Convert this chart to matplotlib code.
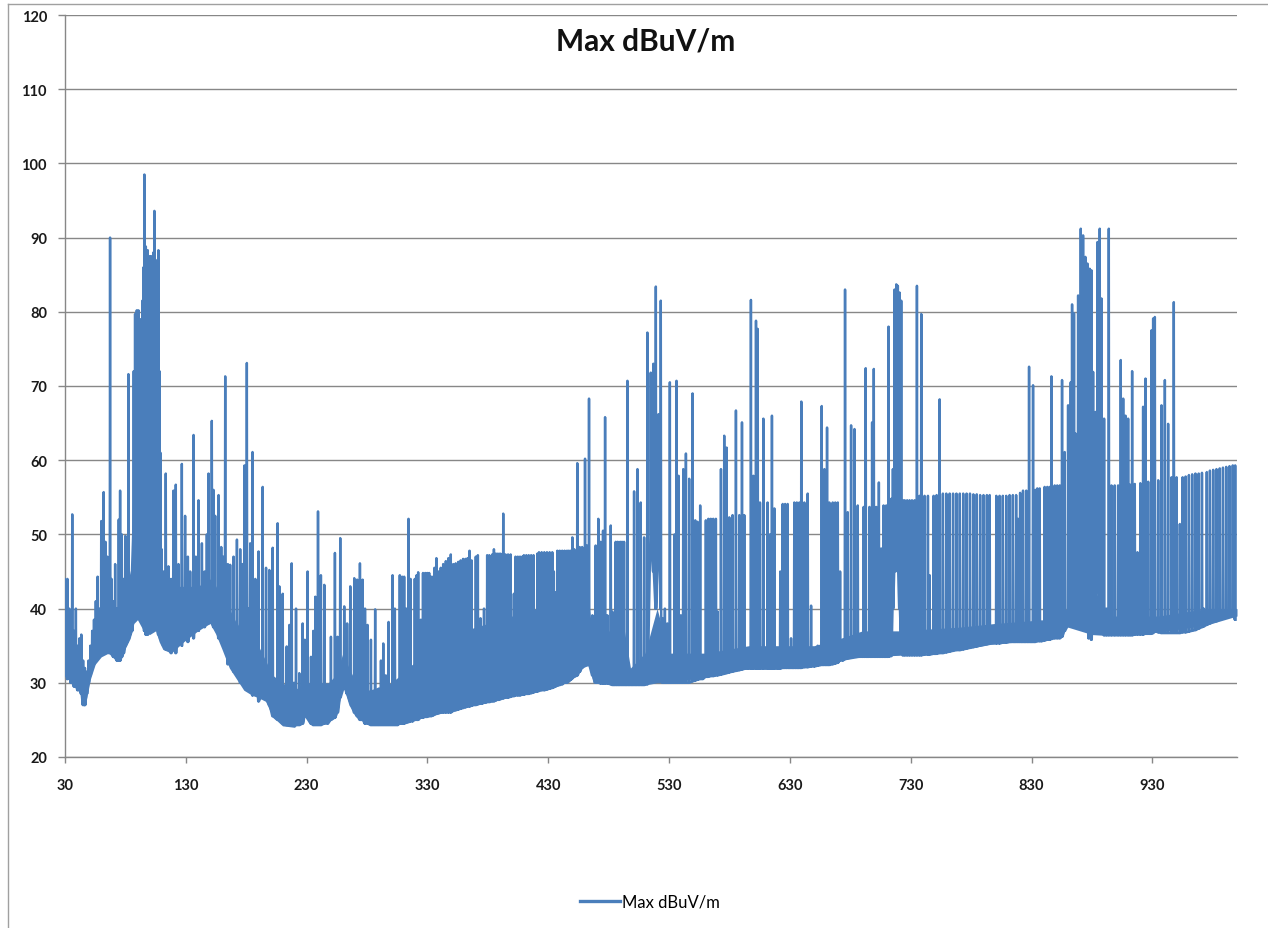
import numpy as np
import matplotlib
matplotlib.use("Agg")
import matplotlib.pyplot as plt
from matplotlib.lines import Line2D

# ---------------- data ----------------
# spikes: frequency (MHz), peak level and the floor level the trace returns to (dBuV/m)
freq_a = [30, 31, 32, 33.5, 35, 36, 37.5, 39, 40.5, 42,
          43.5, 45, 46.5, 48, 49.5, 51, 52.5, 54, 55.5, 57,
          58.5, 60, 61, 62, 63.5, 65, 66.5, 67.3, 68.5, 70,
          71.5, 73, 74.5, 75.6, 77, 78.5, 80, 81.5, 82.5, 84,
          85.5]
peak_a = [44, 38, 44, 40, 36, 52.7, 37, 40, 35, 36,
          36.5, 33, 32, 31.5, 33, 35, 37, 38.5, 41, 44.3,
          40, 51.8, 48, 55.7, 49, 47, 42, 90, 44, 41,
          46, 40, 52, 55.9, 50, 44, 49.8, 42, 71.6, 42.5,
          45]
floor_a = [32, 31, 30.5, 31, 30, 30, 29.5, 29.5, 29, 29,
           28.5, 27, 27, 28.5, 30, 31, 32, 32.5, 33, 33.5,
           33.5, 34, 34, 34, 34.5, 34.5, 34, 34, 34, 33.5,
           33.5, 33, 33, 33, 33.5, 34, 35, 35.5, 36, 36.5,
           37]

freq_b = [86.9, 88, 88.7, 89.4, 90.1, 90.8, 91.6, 92.4, 93.2, 94.1,
          95, 95.7, 96.3, 96.9, 97.7, 98.5, 99.2, 99.9, 100.6, 101.3,
          102, 102.4, 103.2, 104, 104.8, 105.7, 106.5, 107.3, 108.2, 109,
          110]
peak_b = [72, 79.7, 75, 80.2, 78, 80.2, 76, 79, 74, 81.5,
          86, 98.5, 87, 88.8, 86, 88.3, 84, 87.5, 85, 87.5,
          83, 81.5, 88, 93.6, 86, 85, 87, 88.3, 72, 61,
          48]
floor_b = [40, 39.5, 42, 39, 45, 39, 48, 38.5, 50, 38,
           45, 37, 52, 36.5, 55, 36.5, 48, 37, 60, 37,
           50, 37, 55, 37.5, 45, 37.5, 50, 36.5, 40, 36,
           35.5]

freq_c = [111.5, 113.4, 115.6, 117.8, 119.8, 121.7, 123.9, 126.7, 129.4, 131.7,
          133.6, 136.4, 138.3, 140.5, 143.3, 145.5, 147.4, 148.8, 151.5, 152.9,
          154.3, 157.1, 159.3, 161.2, 162.6, 164.8, 166.7, 169.5, 172.3, 175,
          177, 178.6, 180.5, 181.9, 183.3, 185.2, 187.5, 190.2]
peak_c = [45, 58.2, 45.7, 44, 55.9, 56.7, 46, 59.5, 52.5, 47,
          45, 63.4, 47, 54.6, 48.8, 45, 50, 58.2, 65.3, 56,
          52.5, 55.3, 48.3, 47, 71.3, 46, 45.9, 47, 49.3, 48,
          46, 59.3, 73.1, 40, 48.8, 61.1, 44, 47.7]
floor_c = [35, 34.5, 40, 34, 42, 34, 40, 35, 42, 35.5,
           40, 36, 42, 37, 41, 37.5, 42, 38, 42, 37.5,
           41, 36, 40, 35, 40, 32.5, 39, 31.5, 38, 30,
           37, 29.5, 36, 29, 35, 28.3, 34, 27.5]

freq_d = [193.6, 196.4, 199.1, 201.9, 206.0, 207.4, 210.2, 213.5, 215.7, 217.6,
          219.5, 221.2, 223.9, 226.7, 228.5, 230.8, 233.6, 235.5, 237.2, 239.4,
          241.8, 244.6, 247.4, 250.1, 253.4, 255.6, 257.8, 261.1, 263.5, 266.1,
          269.4, 271.8, 274.1, 276.3, 278.3, 280.4, 283.2, 286.7, 289.5, 291.5,
          293.4, 295.5, 297.8, 301.1, 303.0, 305.2, 307.1, 309.0, 310.7, 312.5,
          314.3, 316.0, 317.6, 319.5, 321.0, 322.3, 324.5, 326.3, 328.1, 329.8,
          331.4, 333.0, 334.6, 335.8, 337.4, 339.2, 341.0, 343.0, 345.2, 347.3,
          349.3, 351.3, 353.4]
peak_d = [56.4, 45.5, 45.2, 48.2, 51.5, 43.0, 42.0, 34.9, 37.8, 46.1,
          30.0, 40.0, 31.3, 38.0, 35.8, 45.0, 33.5, 37.0, 41.6, 53.1,
          44.5, 43.2, 26.8, 36.2, 47.5, 36.2, 49.5, 40.3, 38.0, 43.0,
          44.1, 43.9, 46.1, 43.9, 40.0, 37.8, 35.8, 39.9, 29.2, 33.0,
          35.3, 31.0, 38.2, 44.5, 40.0, 27.9, 44.5, 44.3, 44.3, 40.0,
          52.1, 44.0, 32.2, 44.0, 44.5, 44.9, 38.5, 44.8, 44.8, 44.8,
          44.8, 44.3, 44.3, 45.5, 46.8, 45.0, 45.5, 46.0, 46.4, 46.8,
          47.3, 46.0, 46.1]
floor_d = [28.5, 28.0, 27.0, 25.5, 25.0, 25.0, 24.5, 24.3, 24.3, 24.3,
           24.3, 24.3, 24.3, 24.5, 25.5, 25.5, 24.5, 24.3, 24.3, 24.3,
           24.3, 24.5, 24.5, 25.0, 25.3, 26.0, 28.0, 29.5, 28.5, 27.5,
           26.0, 25.5, 25.0, 25.0, 24.5, 24.5, 24.3, 24.3, 24.3, 24.3,
           24.3, 24.3, 24.3, 24.3, 24.3, 24.3, 24.5, 24.5, 24.5, 24.6,
           24.7, 24.8, 24.8, 25.0, 25.0, 25.0, 25.3, 25.3, 25.4, 25.4,
           25.5, 25.5, 25.6, 25.7, 25.8, 25.9, 26.0, 26.0, 26.0, 26.0,
           26.0, 26.2, 26.3]

freq_e = [355.5, 357.5, 359.5, 361.5, 363.2, 364.8, 366.5, 368.4, 370.0, 371.7,
          373.9, 375.3, 376.8, 378.0, 379.4, 381.2, 383.6, 385.0, 386.4, 387.7,
          389.2, 390.5, 392.7, 394.6, 396.7, 398.8, 400.2, 401.5, 402.9, 404.8,
          406.6, 408.4, 409.8, 411.8, 413.8, 415.8, 417.8, 419.5, 420.9, 422.3,
          424.5, 426.7, 428.9, 431.1, 433.3, 434.6, 436.0, 437.5, 439.5, 441.5,
          443.5, 445.5, 447.0, 448.5, 449.9, 451.5]
peak_e = [46.3, 46.5, 46.7, 46.7, 46.8, 47.8, 46.5, 36.4, 47.0, 47.2,
          38.7, 31.5, 40.0, 36.0, 47.2, 47.2, 47.3, 48.0, 47.4, 47.4,
          47.4, 47.4, 52.8, 47.3, 47.3, 47.3, 33.7, 42.0, 47.0, 47.0,
          47.0, 47.0, 47.2, 47.2, 47.2, 47.2, 47.2, 36.2, 47.4, 47.6,
          47.6, 47.6, 47.6, 47.6, 47.6, 45.0, 42.2, 47.8, 47.8, 47.8,
          47.8, 47.8, 47.8, 47.8, 49.6, 48.0]
floor_e = [26.4, 26.5, 26.6, 26.7, 26.8, 26.8, 26.9, 27.0, 27.0, 27.1,
           27.2, 27.2, 27.3, 27.3, 27.4, 27.4, 27.5, 27.5, 27.6, 27.7,
           27.7, 27.8, 27.9, 28.0, 28.0, 28.1, 28.2, 28.2, 28.3, 28.3,
           28.3, 28.4, 28.4, 28.5, 28.5, 28.6, 28.7, 28.8, 28.8, 28.9,
           29.0, 29.0, 29.1, 29.2, 29.3, 29.4, 29.5, 29.6, 29.7, 29.8,
           30.0, 30.0, 30.2, 30.4, 30.6, 30.8]

freq_f = [454.0, 456.0, 458.0, 460.4, 462.0, 463.7, 466.5, 469.2, 471.4, 473.4,
          475.3, 477.0, 478.9, 481.7, 483.0, 485.8, 487.5, 489.5, 491.0, 492.7,
          495.5, 498.2, 501.0, 503.8, 506.5, 509.3, 512.0, 514.8, 517.0, 519.0,
          521.2, 523.1, 524.5]
peak_f = [59.6, 48.3, 48.3, 60.2, 48.5, 68.3, 39.1, 48.5, 52.1, 49.0,
          50.5, 65.8, 39.1, 51.2, 39.6, 49.0, 49.0, 49.0, 49.0, 49.0,
          70.7, 31.0, 55.8, 58.8, 54.3, 49.6, 77.2, 71.8, 73.0, 83.4,
          66.2, 81.5, 38.7]
floor_f = [31.0, 31.5, 32.0, 32.4, 32.4, 32.4, 31.0, 30.0, 30.0, 29.9,
           29.9, 29.9, 29.9, 29.8, 29.7, 29.7, 29.7, 29.7, 29.7, 29.7,
           29.7, 29.7, 29.7, 29.7, 29.7, 29.7, 29.8, 50.0, 45.0, 40.0,
           50.0, 40.0, 30.0]

freq_g = [526.5, 528.5, 530.6, 532.8, 534.5, 536.1, 537.8, 539.7, 541.7, 543.9,
          546.6, 549.4, 551.6, 553.5, 555.7, 557.7, 560.4, 562.5, 564.5, 566.5,
          568.7, 570.1, 572.9, 575.6, 577.6, 579.8, 582.5, 585.3, 588.1, 590.3,
          592.2, 595.0, 597.7, 599.7, 601.9, 603.3, 605.2, 608.0, 611.5, 613.5,
          615.1, 617.1, 619.8, 622.0, 624.0, 626.0, 628.1, 630.9, 633.6, 635.7,
          637.8, 639.4, 641.9, 644.7, 647.5, 650.2, 653.0, 656.3, 658.5, 660.7,
          662.6, 665.4, 667.5, 669.6, 671.5, 673.7, 675.6, 677.8, 680.6, 683.4,
          686.1, 688.9, 691.0, 692.7]
peak_g = [40.0, 38.0, 70.5, 32.0, 50.0, 70.7, 57.9, 39.1, 58.8, 60.9,
          57.5, 69.0, 51.9, 51.7, 53.9, 33.0, 51.9, 52.1, 52.1, 52.1,
          52.1, 39.6, 58.8, 63.3, 61.7, 52.3, 52.6, 66.7, 52.6, 65.1,
          52.6, 33.7, 81.6, 57.9, 78.8, 77.7, 54.3, 65.6, 54.3, 50.0,
          66.0, 53.5, 34.0, 45.0, 54.1, 54.1, 54.1, 36.0, 54.3, 54.3,
          54.3, 67.9, 54.3, 55.5, 40.4, 34.2, 35.0, 67.3, 58.8, 64.4,
          54.3, 54.3, 54.3, 54.3, 45.0, 34.0, 83.0, 53.0, 64.7, 64.2,
          53.9, 36.4, 53.7, 72.4]
floor_g = [30.0, 30.0, 30.0, 30.0, 30.0, 30.0, 30.0, 30.0, 30.0, 30.0,
           30.0, 30.2, 30.3, 30.4, 30.5, 30.5, 30.8, 30.8, 30.9, 30.9,
           31.0, 31.0, 31.1, 31.2, 31.3, 31.4, 31.5, 31.6, 31.7, 31.8,
           31.9, 31.9, 31.9, 31.9, 31.9, 31.9, 31.9, 31.9, 31.9, 31.9,
           31.9, 31.9, 31.9, 31.9, 32.0, 32.0, 32.0, 32.0, 32.0, 32.0,
           32.0, 32.0, 32.1, 32.1, 32.2, 32.2, 32.3, 32.4, 32.4, 32.4,
           32.4, 32.5, 32.6, 32.7, 33.0, 33.0, 33.2, 33.3, 33.4, 33.5,
           33.5, 33.5, 33.5, 33.5]

freq_h = [695.8, 698.0, 699.4, 701.4, 703.6, 705.5, 707.5, 709.7, 711.6, 713.8,
          715.2, 716.6, 718.0, 719.3, 720.7, 722.1, 723.5, 725.0, 727.0, 729.0,
          731.0, 733.1, 735.1, 737.3, 738.7, 741.4, 744.2, 745.6, 748.9, 751.4,
          753.9, 756.6, 759.4, 762.2, 765.0, 767.8, 770.6, 773.4, 776.2, 779.0,
          781.8, 784.6, 787.4, 790.2, 793.0, 795.3, 800.8, 803.5, 806.2, 809.0,
          811.8, 814.5, 817.2, 818.8, 820.5, 822.9, 825.6, 827.9, 831.2, 833.0,
          834.7, 836.7, 838.1, 840.8, 843.0, 845.0, 846.4, 849.1, 851.2, 853.3]
peak_h = [53.7, 65.1, 72.3, 53.7, 57.0, 48.1, 53.9, 53.9, 78.0, 54.8,
          58.8, 83.0, 83.7, 83.5, 82.6, 81.5, 54.6, 54.6, 54.6, 54.6,
          54.6, 54.6, 83.5, 55.2, 79.7, 55.2, 55.2, 44.5, 55.2, 55.3,
          68.2, 55.5, 55.5, 55.5, 55.5, 55.5, 55.5, 55.5, 55.5, 55.5,
          55.4, 55.4, 55.3, 55.3, 55.3, 55.3, 55.2, 55.2, 55.2, 55.2,
          55.3, 55.3, 55.3, 52.1, 55.6, 55.9, 55.9, 72.6, 70.1, 56.0,
          56.2, 56.2, 38.2, 56.4, 56.4, 56.4, 71.3, 56.6, 56.6, 56.6]
floor_h = [33.5, 33.5, 33.5, 33.5, 33.5, 33.5, 33.5, 33.5, 33.5, 33.6,
           40.0, 45.0, 50.0, 45.0, 40.0, 36.0, 33.7, 33.7, 33.7, 33.7,
           33.7, 33.7, 33.7, 33.7, 33.7, 33.8, 33.8, 33.8, 33.9, 33.9,
           34.0, 34.0, 34.1, 34.2, 34.3, 34.4, 34.4, 34.5, 34.6, 34.7,
           34.8, 34.9, 35.0, 35.1, 35.2, 35.3, 35.3, 35.3, 35.4, 35.4,
           35.5, 35.5, 35.5, 35.5, 35.5, 35.5, 35.5, 35.5, 35.5, 35.5,
           35.6, 35.6, 35.6, 35.7, 35.8, 35.8, 35.9, 36.0, 36.0, 36.0]

freq_i = [855.2, 857.4, 860.2, 862.4, 863.5, 865.1, 866.3, 868.5, 869.6, 870.7,
          871.6, 872.6, 873.6, 874.5, 875.3, 876.2, 877.2, 878.1, 879.5, 880.9,
          882.8, 884.5, 886.4, 887.8, 890.0, 891.9, 893.9, 896.1, 898.8, 901.6,
          903.8, 905.8, 907.7, 909.9, 911.5, 913.2, 915.4, 917.6, 920.0, 922.3,
          924.3, 926.5, 929.2, 930.6, 932.0, 934.8, 937.5, 940.3, 943.0, 945.8,
          947.7, 950.0, 952.7, 955.0, 957.5, 960.2, 962.9, 965.6, 968.3, 971.0,
          972.5, 975.0, 977.6, 980.3, 983.0, 985.7, 988.4, 991.1, 993.8, 996.5,
          998.5]
peak_i = [70.8, 61.1, 67.4, 70.5, 81.0, 79.8, 63.6, 82.2, 75.0, 91.2,
          85.0, 90.3, 80.0, 87.4, 82.0, 86.5, 80.0, 85.8, 85.6, 71.9,
          66.5, 89.4, 91.2, 81.8, 65.6, 40.0, 91.2, 56.6, 56.6, 56.6,
          73.5, 68.3, 66.0, 65.6, 56.7, 72.0, 56.8, 47.6, 56.9, 67.2,
          71.0, 57.1, 77.5, 79.1, 79.3, 57.3, 67.4, 70.8, 64.9, 57.7,
          81.3, 57.7, 51.4, 57.7, 57.8, 58.0, 58.1, 58.2, 58.2, 58.3,
          40.0, 58.4, 58.6, 58.7, 58.8, 58.9, 59.0, 59.1, 59.2, 59.3,
          59.3]
floor_i = [36.2, 37.0, 37.7, 38.0, 40.0, 42.0, 40.0, 44.0, 40.0, 45.0,
           42.0, 46.0, 40.0, 44.0, 38.0, 45.0, 36.0, 42.0, 35.8, 42.0,
           40.0, 45.0, 40.0, 38.0, 36.4, 36.4, 36.4, 36.4, 36.4, 36.4,
           36.4, 36.4, 36.4, 36.4, 36.4, 36.4, 36.5, 36.5, 36.5, 36.5,
           36.6, 36.6, 36.6, 36.7, 37.0, 36.8, 36.7, 36.7, 36.7, 36.7,
           36.7, 36.7, 36.7, 36.8, 36.8, 36.9, 37.0, 37.1, 37.3, 37.5,
           37.6, 37.8, 38.0, 38.2, 38.3, 38.5, 38.7, 38.9, 39.1, 39.3,
           38.5]

# densely-packed part of the trace (lower envelope and top of the solid mass)
band_freq = [30, 33, 36, 40, 44, 46, 48, 51, 55, 60,
             66, 72, 78, 84, 87, 90, 95, 100, 105, 108,
             111, 118, 128, 140, 150, 155, 160, 166, 172, 178,
             185, 190, 196, 202, 210, 220, 228, 232, 240, 248,
             254, 258, 260, 265, 271, 282, 300, 315, 326, 345,
             360, 380, 400, 420, 436, 450, 458, 464, 467, 477,
             490, 498, 510, 520, 530, 560, 596, 650, 672, 690,
             720, 770, 800, 840, 860, 870, 880, 890, 935, 975,
             1000]
band_low = [31.5, 30.5, 30.0, 29.5, 28.5, 26.8, 28.0, 30.5, 32.5, 33.5,
            34.0, 33.0, 34.0, 36.0, 38.0, 38.5, 37.0, 36.5, 37.0, 35.5,
            34.5, 34.0, 35.5, 37.0, 38.0, 36.5, 34.5, 32.0, 30.5, 29.0,
            28.3, 28.0, 27.5, 25.4, 24.2, 24.0, 25.5, 24.5, 24.3, 24.7,
            25.4, 28.0, 29.7, 27.0, 25.4, 24.3, 24.3, 24.7, 25.4, 26.0,
            26.7, 27.4, 28.2, 28.9, 29.7, 30.7, 32.0, 32.4, 30.0, 29.9,
            29.7, 29.7, 29.7, 30.0, 30.0, 30.8, 31.9, 32.2, 33.0, 33.5,
            33.7, 34.4, 35.3, 35.7, 37.5, 37.0, 36.5, 36.4, 36.8, 37.8,
            39.0]
band_high = [36, 34, 34, 33, 31, 29, 31, 34, 37, 40,
             41, 40, 41, 45, 60, 72, 78, 80, 78, 55,
             44, 43, 43, 43, 44, 43, 41, 40, 38, 37,
             36, 35, 33, 31, 30, 29, 30, 30, 30, 30,
             31, 33, 34, 32, 30, 29, 30, 32, 34, 36,
             37, 38, 39, 40, 41, 40, 40, 40, 36, 36,
             40, 32, 34, 40, 34, 34, 35, 35, 36, 37,
             37, 37.5, 38, 38.5, 40, 46, 44, 39, 39, 40,
             40]

x_tick_labels = ["30", "130", "230", "330", "430", "530", "630", "730", "830", "930"]
y_ticks = [20, 30, 40, 50, 60, 70, 80, 90, 100, 110, 120]
series_name = "Max dBuV/m"

# ---------------- assemble trace ----------------
freq = np.concatenate([freq_a, freq_b, freq_c, freq_d, freq_e, freq_f, freq_g, freq_h, freq_i])
peak = np.concatenate([peak_a, peak_b, peak_c, peak_d, peak_e, peak_f, peak_g, peak_h, peak_i])
floor = np.concatenate([floor_a, floor_b, floor_c, floor_d, floor_e, floor_f, floor_g, floor_h, floor_i])
assert len(freq) == len(peak) == len(floor), (len(freq), len(peak), len(floor))
assert len(band_freq) == len(band_low) == len(band_high)

# each spike: rise from its floor, reach the peak, fall back to the floor
half_width = 0.3  # MHz, spike half-width
trace_x = np.column_stack([freq - half_width, freq, freq + half_width]).ravel()
trace_y = np.column_stack([floor, peak, floor]).ravel()

# ---------------- figure ----------------
plt.rcParams['font.family'] = ['Lato', 'DejaVu Sans']
W, H = 1268, 929
fig = plt.figure(figsize=(W / 100, H / 100), dpi=100)
fig.patch.set_facecolor('white')

ax = fig.add_axes([65 / W, 1 - 758 / H, (1237 - 65) / W, (758 - 16) / H])
blue = '#4A7EBB'
grey = '#878787'

ax.fill_between(band_freq, band_low, band_high, color=blue, lw=0, zorder=2)
ax.plot(trace_x, trace_y, color=blue, lw=1.75, zorder=3, solid_joinstyle='round')

ax.set_xlim(30, 1000)
ax.set_ylim(20, 120)
ax.set_xticks([int(s) for s in x_tick_labels])
ax.set_xticklabels(x_tick_labels)
ax.set_yticks(y_ticks)
ax.yaxis.grid(True, color=grey, lw=1.0)
ax.set_axisbelow(True)
for s in ['top', 'right']:
    ax.spines[s].set_visible(False)
for s in ['left', 'bottom']:
    ax.spines[s].set_color(grey)
    ax.spines[s].set_linewidth(1.0)
ax.tick_params(axis='y', direction='out', length=5, width=1, color=grey, pad=8,
               labelsize=10.5, labelcolor='#1a1a1a')
ax.tick_params(axis='x', direction='out', length=4, width=1, color=grey, pad=11,
               labelsize=10.5, labelcolor='#1a1a1a')
for lab in ax.get_xticklabels() + ax.get_yticklabels():
    lab.set_fontweight('bold')

fig.text(646 / W, 1 - 42 / H, "Max dBuV/m", ha='center', va='center',
         fontsize=21.5, fontweight='bold', color='#111111')

handle = Line2D([], [], color=blue, lw=2.4)
fig.legend([handle], [series_name], loc='center', bbox_to_anchor=(650 / W, 1 - 903 / H),
           frameon=False, fontsize=12, handlelength=2.4, handletextpad=0.1)

# outer chart-area border (left and top visible)
fig.add_artist(Line2D([8 / W, 8 / W], [0, 1 - 5 / H], transform=fig.transFigure, color='#a0a0a0', lw=1))
fig.add_artist(Line2D([8 / W, 1], [1 - 5 / H, 1 - 5 / H], transform=fig.transFigure, color='#a0a0a0', lw=1))

fig.savefig('out.png', dpi=100, facecolor='white')
